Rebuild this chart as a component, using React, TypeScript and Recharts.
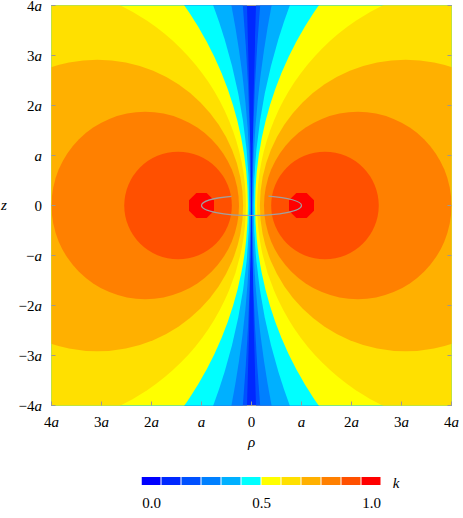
import React from 'react';
import { ComposedChart, Scatter, XAxis, YAxis, CartesianGrid, BarChart, Bar, Cell, Label } from 'recharts';

// colour scale for k, 0.0 ... 1.0
const palette = ['#0000ff', '#0028ff', '#0050ff', '#0080ff', '#00b0ff', '#00ffff', '#ffff00', '#ffe000', '#ffb000', '#ff8000', '#ff5000', '#ff0000'];

// contour levels of k; every level is a circle centred on z = 0 (units of a)
const kLevels = [0.1, 0.2, 0.3, 0.4, 0.5, 0.6, 0.7, 0.8, 0.9];
const circleCenters = [114, 49, 21.22, 11.5, 7, 4.556, 3.082, 2.125, 1.469];
const circleRadii = [113.98, 48.99, 21.199, 11.456, 6.928, 4.444, 2.915, 1.875, 1.076];

const axisTicks = [-4, -3, -2, -1, 0, 1, 2, 3, 4];
const barTicks = [0, 0.5, 1];

// the ring itself
const ringPos = [{ x: 0, y: 0 }];
const ringRadius = 1;
const ringTilt = 0.2;
const ringGap = [-0.4, 0.34];
const corePos = [{ x: -1, y: 0 }, { x: 1, y: 0 }];
const coreRadius = 0.25;

const UNIT = 400 / 8; // px per a
const FRAME = '#999';
const FONT = '"Liberation Serif", "DejaVu Serif", serif';
const textStyle = { fontFamily: FONT, fontSize: 15 };

const contours = kLevels.flatMap((k, i) => [
  { x: -circleCenters[i], y: 0, r: circleRadii[i], fill: palette[i + 2] },
  { x: circleCenters[i], y: 0, r: circleRadii[i], fill: palette[i + 2] },
]);

// one swatch per colour, centred on k = i / 11
const swatches = palette.map((c, i) => ({ k: i / 11, value: 1 }));

const tickText = (v: number, abs: boolean) => {
  const n = abs ? Math.abs(v) : v;
  if (n === 0) return <tspan>0</tspan>;
  const m = Math.abs(n);
  return (
    <>
      <tspan>{(n < 0 ? '\u2212' : '') + (m === 1 ? '' : m)}</tspan>
      <tspan fontStyle="italic">a</tspan>
    </>
  );
};

const BottomTick = (p: any) => (
  <g>
    <line x1={p.x} x2={p.x} y1={p.y} y2={p.y - 4} stroke={FRAME} />
    <text x={p.x} y={p.y + 21} textAnchor="middle" style={textStyle} fill="#000">
      {tickText(p.payload.value, true)}
    </text>
  </g>
);

const TopTick = (p: any) => <line x1={p.x} x2={p.x} y1={p.y} y2={p.y + 4} stroke={FRAME} />;

const LeftTick = (p: any) => (
  <g>
    <line x1={p.x} x2={p.x + 4} y1={p.y} y2={p.y} stroke={FRAME} />
    <text x={p.x - 9.5} y={p.y + 5.5} textAnchor="end" style={textStyle} fill="#000">
      {tickText(p.payload.value, false)}
    </text>
  </g>
);

const RightTick = (p: any) => <line x1={p.x} x2={p.x - 4} y1={p.y} y2={p.y} stroke={FRAME} />;

const BarTick = (p: any) => (
  <text x={p.x} y={p.y + 23} textAnchor="middle" style={textStyle} fill="#000">
    {p.payload.value.toFixed(1)}
  </text>
);

const renderCircle = (p: any) => (
  <circle cx={p.cx} cy={p.cy} r={p.payload.r * UNIT} fill={p.payload.fill} />
);

const renderCore = (p: any) => {
  const R = (coreRadius * UNIT) / Math.cos(Math.PI / 8);
  const pts = Array.from({ length: 8 }, (_, i) => {
    const t = Math.PI / 8 + (i * Math.PI) / 4;
    return `${p.cx + R * Math.cos(t)},${p.cy + R * Math.sin(t)}`;
  }).join(' ');
  return <polygon points={pts} fill={palette[11]} />;
};

const renderRing = (p: any) => {
  const rx = ringRadius * UNIT;
  const ry = ringTilt * UNIT;
  const yAt = (u: number) => p.cy - ry * Math.sqrt(1 - u * u);
  const d = [
    `M ${p.cx - rx} ${p.cy} A ${rx} ${ry} 0 0 0 ${p.cx + rx} ${p.cy}`,
    `M ${p.cx - rx} ${p.cy} A ${rx} ${ry} 0 0 1 ${p.cx + ringGap[0] * rx} ${yAt(ringGap[0])}`,
    `M ${p.cx + ringGap[1] * rx} ${yAt(ringGap[1])} A ${rx} ${ry} 0 0 1 ${p.cx + rx} ${p.cy}`,
  ].join(' ');
  return <path d={d} fill="none" stroke="#a0a0a0" strokeWidth={1.2} />;
};

const App: React.FC = () => {
  return (
    <div style={{ position: 'absolute', left: 0, top: 0, width: 463, height: 518, background: '#fff' }}>
      <ComposedChart width={463} height={460} margin={{ top: 4.5, right: 10.5, bottom: 0, left: 0 }}>
        <CartesianGrid xAxisId="b" yAxisId="l" fill={palette[1]} horizontal={false} vertical={false} />
        <Scatter xAxisId="b" yAxisId="l" data={contours} shape={renderCircle} isAnimationActive={false} />
        <Scatter xAxisId="b" yAxisId="l" data={corePos} shape={renderCore} isAnimationActive={false} />
        <Scatter xAxisId="b" yAxisId="l" data={ringPos} shape={renderRing} isAnimationActive={false} />
        <XAxis
          xAxisId="b" type="number" dataKey="x" domain={[-4, 4]} ticks={axisTicks} interval={0}
          allowDataOverflow height={54.5} tickSize={0} tickMargin={0} tickLine={false}
          axisLine={{ stroke: FRAME }} tick={(p: any) => <BottomTick {...p} />}
        >
          <Label
            content={(p: any) => (
              <text x={p.viewBox.x + p.viewBox.width / 2} y={p.viewBox.y + 41.5} textAnchor="middle"
                style={textStyle} fontStyle="italic" fill="#000">ρ</text>
            )}
          />
        </XAxis>
        <XAxis
          xAxisId="t" orientation="top" type="number" domain={[-4, 4]} ticks={axisTicks} interval={0}
          allowDataOverflow height={1} tickSize={0} tickMargin={0} tickLine={false}
          axisLine={{ stroke: FRAME }} tick={(p: any) => <TopTick {...p} />}
        />
        <YAxis
          yAxisId="l" type="number" dataKey="y" domain={[-4, 4]} ticks={axisTicks} interval={0}
          allowDataOverflow width={51.5} tickSize={0} tickMargin={0} tickLine={false}
          axisLine={{ stroke: FRAME }} tick={(p: any) => <LeftTick {...p} />}
        >
          <Label
            content={(p: any) => (
              <text x={4} y={p.viewBox.y + p.viewBox.height / 2 + 4} textAnchor="middle"
                style={textStyle} fontStyle="italic" fill="#000">z</text>
            )}
          />
        </YAxis>
        <YAxis
          yAxisId="r" orientation="right" type="number" domain={[-4, 4]} ticks={axisTicks} interval={0}
          allowDataOverflow width={1} tickSize={0} tickMargin={0} tickLine={false}
          axisLine={{ stroke: FRAME }} tick={(p: any) => <RightTick {...p} />}
        />
      </ComposedChart>
      <div style={{ position: 'absolute', left: 0, top: 460 }}>
        <BarChart width={463} height={58} data={swatches} margin={{ top: 17, right: 81.5, bottom: 0, left: 141.5 }}>
          <XAxis
            type="number" dataKey="k" domain={[-1 / 22, 1 + 1 / 22]} ticks={barTicks} interval={0}
            allowDataOverflow height={33} axisLine={false} tickLine={false} tickSize={0} tickMargin={0}
            tick={(p: any) => <BarTick {...p} />}
          >
            <Label
              content={(p: any) => (
                <text x={p.viewBox.x + p.viewBox.width + 14.5} y={p.viewBox.y + 2.5} textAnchor="middle"
                  style={textStyle} fontStyle="italic" fill="#000">k</text>
              )}
            />
          </XAxis>
          <YAxis hide domain={[0, 1]} />
          <Bar dataKey="value" barSize={19} isAnimationActive={false}>
            {swatches.map((s, i) => (
              <Cell key={i} fill={palette[i]} />
            ))}
          </Bar>
        </BarChart>
      </div>
    </div>
  );
};

export default App;
